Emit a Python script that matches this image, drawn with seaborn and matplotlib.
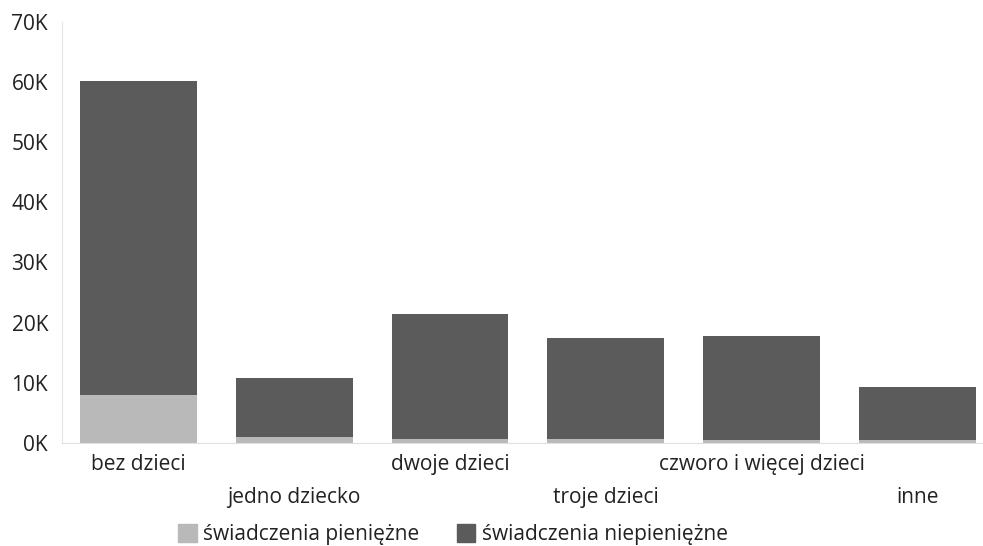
import numpy as np
import pandas as pd
import seaborn as sns
import matplotlib.pyplot as plt
from matplotlib.patches import Patch

# data
categories = ["bez dzieci", "jedno dziecko", "dwoje dzieci", "troje dzieci",
              "czworo i więcej dzieci", "inne"]
pieniezne = [8000, 1000, 700, 600, 500, 500]
niepieniezne = [52200, 9800, 20800, 16900, 17200, 8700]
yticks = [0, 10000, 20000, 30000, 40000, 50000, 60000, 70000]
ytick_labels = ["0K", "10K", "20K", "30K", "40K", "50K", "60K", "70K"]

LIGHT = "#b9b9b9"
DARK = "#5b5b5b"
FS = 15

df = pd.DataFrame({
    "kategoria": categories,
    "pien": pieniezne,
    "total": np.array(pieniezne) + np.array(niepieniezne),
})

sns.set_style("white")
plt.rcParams["font.family"] = ["Open Sans", "DejaVu Sans"]

fig = plt.figure(figsize=(9.83, 5.46), dpi=100)
ax = fig.add_axes([0.063, 0.189, 0.937, 0.771])

sns.barplot(data=df, x="kategoria", y="total", color=DARK, saturation=1,
            width=0.75, linewidth=0, ax=ax)
sns.barplot(data=df, x="kategoria", y="pien", color=LIGHT, saturation=1,
            width=0.75, linewidth=0, ax=ax)

ax.set_ylim(0, 70000)
ax.set_xlim(-0.49, 5.42)
ax.set_yticks(yticks)
ax.set_yticklabels(ytick_labels, fontsize=FS, color="#222222")
ax.set_xlabel("")
ax.set_ylabel("")
ax.tick_params(axis="both", length=0)
ax.tick_params(axis="y", pad=10)
ax.set_xticks(range(len(categories)))
ax.set_xticklabels(categories, fontsize=FS, color="#222222")
for i, t in enumerate(ax.xaxis.get_major_ticks()):
    t.set_pad(8 if i % 2 == 0 else 32)

for s in ["top", "right"]:
    ax.spines[s].set_visible(False)
ax.spines["left"].set_color("#e6e6e6")
ax.spines["bottom"].set_color("#e0e0e0")

handles = [Patch(color=LIGHT), Patch(color=DARK)]
fig.legend(handles, ["świadczenia pieniężne", "świadczenia niepieniężne"],
           loc="lower left", bbox_to_anchor=(0.162, -0.033), ncol=2,
           frameon=False, fontsize=FS, handlelength=0.9, handleheight=0.9,
           handletextpad=0.3, columnspacing=1.8, labelcolor="#222222")

fig.savefig("out.png", dpi=100)
